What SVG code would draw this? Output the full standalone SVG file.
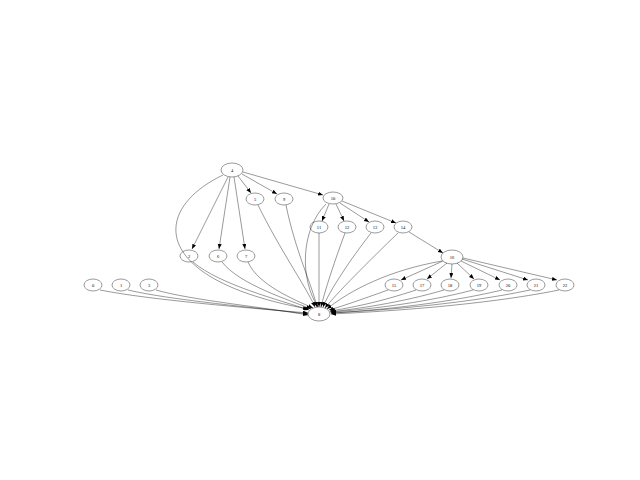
<svg xmlns="http://www.w3.org/2000/svg" width="640" height="480" viewBox="0 0 640 480">
<style>
.n ellipse{fill:none;stroke:#000;stroke-width:0.4}
.n text{font-family:"Liberation Serif",serif;font-size:4.5px;text-anchor:middle;dominant-baseline:central;fill:#000}
#edges path{fill:none;stroke:#000;stroke-width:0.4;marker-end:url(#a)}
</style>
<defs>
<marker id="a" markerUnits="userSpaceOnUse" markerWidth="6" markerHeight="6" refX="5" refY="2" orient="auto">
<path d="M0,0 L5,2 L0,4 Z" fill="#000"/>
</marker>
</defs>
<rect width="640" height="480" fill="#fff"/>
<g id="edges">
<path d="M228,177 L192,249"/>
<path d="M230,177 L219,249"/>
<path d="M234,177 L245,249"/>
<path d="M238,176 L251,193"/>
<path d="M242,174 L277,194"/>
<path d="M243,172 L323,195"/>
<path d="M329,204 L322,221"/>
<path d="M336,204 L344,221"/>
<path d="M340,203 L369,222"/>
<path d="M342,201 L396,223"/>
<path d="M409,232 L443,253"/>
<path d="M443,261 L401,280"/>
<path d="M447,263 L427,279"/>
<path d="M452,264 L451,278"/>
<path d="M457,263 L474,279"/>
<path d="M461,261 L500,280"/>
<path d="M462,259 L528,280"/>
<path d="M463,258 L557,280"/>
<path d="M223,175 C150,210 150,280 308,309"/>
<path d="M193,262 C220,285 280,300 309,310"/>
<path d="M222,262 C240,285 290,300 311,309"/>
<path d="M248,262 C258,285 295,300 313,308"/>
<path d="M258,205 C280,250 305,285 315,307"/>
<path d="M286,205 C295,250 312,285 317,307"/>
<path d="M326,204 C300,230 300,280 318,307"/>
<path d="M319,233 L319,307"/>
<path d="M345,233 C335,260 325,290 321,307"/>
<path d="M371,233 C350,260 330,290 323,307"/>
<path d="M398,233 C370,260 335,295 325,308"/>
<path d="M442,261 C390,270 350,290 327,309"/>
<path d="M388,290 C360,300 340,307 329,310"/>
<path d="M416,290 C380,302 350,308 330,311"/>
<path d="M444,290 C400,303 355,309 330,312"/>
<path d="M473,290 C420,304 360,310 331,312"/>
<path d="M502,290 C440,305 365,311 331,313"/>
<path d="M530,290 C460,305 370,311 331,313"/>
<path d="M559,290 C480,306 375,312 331,314"/>
<path d="M100,290 C150,300 250,308 308,313"/>
<path d="M128,290 C170,300 260,308 308,314"/>
<path d="M156,290 C190,300 270,308 308,315"/>
</g>
<g id="n4" class="n"><ellipse cx="232" cy="170" rx="11" ry="7"/><text x="232" y="170">4</text></g>
<g id="n5" class="n"><ellipse cx="255" cy="199" rx="9" ry="6"/><text x="255" y="199">5</text></g>
<g id="n9" class="n"><ellipse cx="284" cy="199" rx="9" ry="6"/><text x="284" y="199">9</text></g>
<g id="n10" class="n"><ellipse cx="333" cy="198" rx="10" ry="6"/><text x="333" y="198">10</text></g>
<g id="n11" class="n"><ellipse cx="319" cy="227" rx="9" ry="6"/><text x="319" y="227">11</text></g>
<g id="n12" class="n"><ellipse cx="347" cy="227" rx="9" ry="6"/><text x="347" y="227">12</text></g>
<g id="n13" class="n"><ellipse cx="375" cy="227" rx="9" ry="6"/><text x="375" y="227">13</text></g>
<g id="n14" class="n"><ellipse cx="403" cy="227" rx="9" ry="6"/><text x="403" y="227">14</text></g>
<g id="n2" class="n"><ellipse cx="189" cy="256" rx="9" ry="6"/><text x="189" y="256">2</text></g>
<g id="n6" class="n"><ellipse cx="218" cy="256" rx="9" ry="6"/><text x="218" y="256">6</text></g>
<g id="n7" class="n"><ellipse cx="246" cy="256" rx="9" ry="6"/><text x="246" y="256">7</text></g>
<g id="n16" class="n"><ellipse cx="452" cy="257" rx="11" ry="7"/><text x="452" y="257">16</text></g>
<g id="n15" class="n"><ellipse cx="394" cy="285" rx="9" ry="6"/><text x="394" y="285">15</text></g>
<g id="n17" class="n"><ellipse cx="422" cy="285" rx="9" ry="6"/><text x="422" y="285">17</text></g>
<g id="n18" class="n"><ellipse cx="450" cy="285" rx="9" ry="6"/><text x="450" y="285">18</text></g>
<g id="n19" class="n"><ellipse cx="479" cy="285" rx="9" ry="6"/><text x="479" y="285">19</text></g>
<g id="n20" class="n"><ellipse cx="508" cy="285" rx="9" ry="6"/><text x="508" y="285">20</text></g>
<g id="n21" class="n"><ellipse cx="536" cy="285" rx="9" ry="6"/><text x="536" y="285">21</text></g>
<g id="n22" class="n"><ellipse cx="565" cy="285" rx="9" ry="6"/><text x="565" y="285">22</text></g>
<g id="n0" class="n"><ellipse cx="93" cy="285" rx="9" ry="6"/><text x="93" y="285">0</text></g>
<g id="n1" class="n"><ellipse cx="121" cy="285" rx="9" ry="6"/><text x="121" y="285">1</text></g>
<g id="n3" class="n"><ellipse cx="149" cy="285" rx="9" ry="6"/><text x="149" y="285">3</text></g>
<g id="n8" class="n"><ellipse cx="319" cy="314" rx="11" ry="7"/><text x="319" y="314">8</text></g>
</svg>
